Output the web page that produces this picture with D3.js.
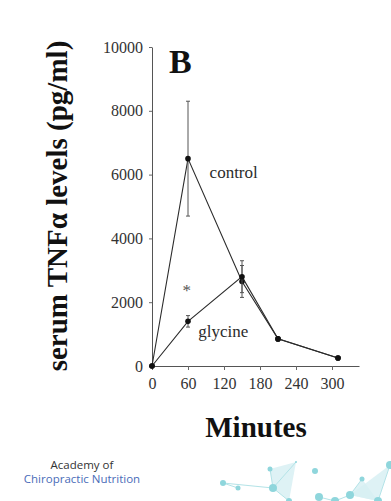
<!DOCTYPE html>
<html>
<head>
<meta charset="utf-8">
<script src="https://cdn.jsdelivr.net/npm/d3@7"></script>
<style>
  html, body { margin: 0; padding: 0; background: #fff; }
  svg { display: block; }
</style>
</head>
<body>
<div id="chart"></div>
<script>
// values
const minutes = [0, 60, 150, 210, 310];
const controlMean = [0, 6500, 2650, 850, 250];
const controlErr = [0, 1800, 500, 0, 0];
const glycineMean = [0, 1400, 2800, 850, 250];
const glycineErr = [0, 180, 500, 0, 0];
const xTicks = [0, 60, 120, 180, 240, 300];
const yTicks = [0, 2000, 4000, 6000, 8000, 10000];

// decoration in the footer (light network graphic)
const netNodes = [
  [223, 483, 3], [238, 488, 2.5], [270, 469, 2.5], [273, 488, 4],
  [315, 471, 3], [362, 479, 2.5], [319, 497, 4], [335, 501, 4],
  [350, 495, 4], [390, 465, 4], [378, 501, 4], [289, 501, 3], [296, 462, 1]
];
const netLinks = [[0, 1], [0, 3], [2, 3], [3, 11], [3, 12], [6, 7], [7, 8], [8, 5], [9, 10], [4, 4]];
const netFaces = [[2, 12, 3], [5, 8, 10], [3, 11, 12], [9, 10, 8]];

const W = 391, H = 501;
const svg = d3.select('#chart').append('svg')
  .attr('width', W)
  .attr('height', H);

const x = d3.scaleLinear().domain([0, 345]).range([152, 359]);
const y = d3.scaleLinear().domain([0, 10000]).range([366, 47]);

const serif = '"Liberation Serif", "Times New Roman", serif';
const ink = '#2b2b2b';

// axes
const xAxis = svg.append('g')
  .attr('transform', `translate(0,${y(0)})`)
  .call(d3.axisBottom(x).tickValues(xTicks).tickSize(4).tickPadding(8).tickSizeOuter(0));
const yAxis = svg.append('g')
  .attr('transform', `translate(${x(0)},0)`)
  .call(d3.axisLeft(y).tickValues(yTicks).tickSize(3).tickPadding(6).tickSizeOuter(0).tickFormat(d3.format('d')));

[xAxis, yAxis].forEach(ax => {
  ax.attr('font-family', serif).attr('font-size', 16);
  ax.select('.domain').attr('stroke', '#555').attr('stroke-width', 1);
  ax.selectAll('.tick line').attr('stroke', '#666');
  ax.selectAll('.tick text').attr('fill', '#333');
});

// series
const series = [
  { mean: controlMean, err: controlErr },
  { mean: glycineMean, err: glycineErr }
];
const line = d3.line()
  .x((d, i) => x(minutes[i]))
  .y(d => y(d));

series.forEach(s => {
  svg.append('path')
    .datum(s.mean)
    .attr('d', line)
    .attr('fill', 'none')
    .attr('stroke', ink)
    .attr('stroke-width', 1.1);

  const bars = s.mean.map((m, i) => ({ t: minutes[i], m, e: s.err[i] })).filter(d => d.e > 0);
  const eb = svg.append('g').selectAll('g').data(bars).enter().append('g');
  eb.append('line')
    .attr('x1', d => x(d.t)).attr('x2', d => x(d.t))
    .attr('y1', d => y(d.m - d.e)).attr('y2', d => y(d.m + d.e))
    .attr('stroke', '#555').attr('stroke-width', 1);
  [-1, 1].forEach(sg => {
    eb.append('line')
      .attr('x1', d => x(d.t) - 2).attr('x2', d => x(d.t) + 2)
      .attr('y1', d => y(d.m + sg * d.e)).attr('y2', d => y(d.m + sg * d.e))
      .attr('stroke', '#555').attr('stroke-width', 1);
  });

  svg.append('g').selectAll('circle')
    .data(s.mean)
    .enter().append('circle')
    .attr('cx', (d, i) => x(minutes[i]))
    .attr('cy', d => y(d))
    .attr('r', 2.8)
    .attr('fill', '#111');
});

// annotations
svg.append('text')
  .attr('x', 169).attr('y', 73)
  .attr('font-family', serif).attr('font-weight', 'bold').attr('font-size', '34px')
  .attr('fill', '#111').text('B');
svg.append('text')
  .attr('x', x(96)).attr('y', y(5900))
  .attr('font-family', serif).attr('font-size', '17px')
  .attr('fill', ink).text('control');
svg.append('text')
  .attr('x', x(77)).attr('y', y(900))
  .attr('font-family', serif).attr('font-size', '17px')
  .attr('fill', ink).text('glycine');
svg.append('text')
  .attr('x', x(58)).attr('y', y(2200))
  .attr('text-anchor', 'middle')
  .attr('font-family', serif).attr('font-size', '17px')
  .attr('fill', '#555').text('*');

// axis titles
svg.append('text')
  .attr('transform', 'translate(67,206) rotate(-90)')
  .attr('text-anchor', 'middle')
  .attr('font-family', serif).attr('font-weight', 'bold').attr('font-size', '29px')
  .attr('fill', '#111').text('serum TNFα levels (pg/ml)');
svg.append('text')
  .attr('x', 256).attr('y', 437)
  .attr('text-anchor', 'middle')
  .attr('font-family', serif).attr('font-weight', 'bold').attr('font-size', '29px')
  .attr('fill', '#111').text('Minutes');

// footer branding
svg.append('text')
  .attr('x', 82).attr('y', 469)
  .attr('text-anchor', 'middle')
  .attr('font-family', '"Open Sans", "Noto Sans", sans-serif').attr('font-size', '11.5px')
  .attr('fill', '#333').text('Academy of');
svg.append('text')
  .attr('x', 82).attr('y', 483)
  .attr('text-anchor', 'middle')
  .attr('font-family', '"Open Sans", "Noto Sans", sans-serif').attr('font-size', '11.5px')
  .attr('fill', '#4a6cb8').text('Chiropractic Nutrition');

const net = svg.append('g');
net.selectAll('polygon').data(netFaces).enter().append('polygon')
  .attr('points', f => f.map(k => netNodes[k].slice(0, 2).join(',')).join(' '))
  .attr('fill', '#d6eff2').attr('opacity', 0.8);
net.selectAll('line').data(netLinks).enter().append('line')
  .attr('x1', l => netNodes[l[0]][0]).attr('y1', l => netNodes[l[0]][1])
  .attr('x2', l => netNodes[l[1]][0]).attr('y2', l => netNodes[l[1]][1])
  .attr('stroke', '#b3e3e7').attr('stroke-width', 1);
net.selectAll('circle').data(netNodes).enter().append('circle')
  .attr('cx', n => n[0]).attr('cy', n => n[1]).attr('r', n => n[2])
  .attr('fill', '#8fd6dc');
</script>
</body>
</html>
